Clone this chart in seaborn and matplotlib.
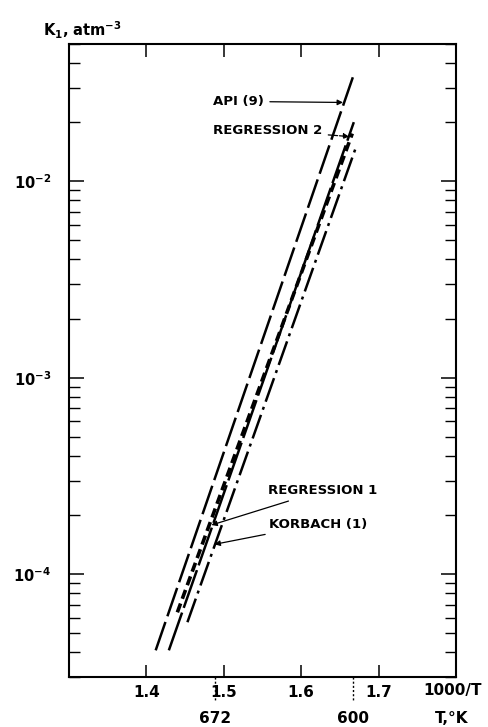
import numpy as np
import pandas as pd
import matplotlib
matplotlib.use('Agg')
import matplotlib.pyplot as plt
import matplotlib.transforms as mtransforms
import seaborn as sns

# Style
sns.set_style('ticks')
plt.rcParams['font.family'] = ['DejaVu Sans']
plt.rcParams['mathtext.fontset'] = 'dejavusans'
plt.rcParams['text.color'] = 'black'
plt.rcParams['xtick.color'] = 'black'
plt.rcParams['ytick.color'] = 'black'
plt.rcParams['axes.edgecolor'] = 'black'

# Data (each line is straight in log K vs 1000/T)
sources = ['API (9)', 'REGRESSION 1', 'REGRESSION 2', 'KORBACH (1)']
inv_t_start = [1.412, 1.429, 1.440, 1.453]
inv_t_end = [1.668, 1.668, 1.666, 1.671]
k1_start = [4.1e-5, 4.1e-5, 6.4e-5, 5.7e-5]
k1_end = [3.5e-2, 2.0e-2, 1.75e-2, 1.5e-2]

x_ticks = [1.4, 1.5, 1.6, 1.7]
y_major = [1e-4, 1e-3, 1e-2]
y_labels = ['10$^{\\mathbf{-4}}$', '10$^{\\mathbf{-3}}$', '10$^{\\mathbf{-2}}$']
temps_k = [672, 600]

df = pd.DataFrame({
    'inv_T': inv_t_start + inv_t_end,
    'K1': k1_start + k1_end,
    'source': sources + sources,
})

fig = plt.figure(figsize=(4.89, 7.27), dpi=100)
ax = fig.add_axes([0.1411, 0.0688, 0.7914, 0.8707])

dash_map = {
    'API (9)': (12, 2.4),
    'REGRESSION 1': (16, 2.0),
    'REGRESSION 2': (2.6, 1.4),
    'KORBACH (1)': (10, 2.2, 1.2, 2.2),
}
width_map = {'API (9)': 1.8, 'REGRESSION 1': 1.8, 'REGRESSION 2': 2.6, 'KORBACH (1)': 1.8}

sns.lineplot(data=df, x='inv_T', y='K1', style='source', size='source',
             dashes=dash_map, sizes=width_map, color='black', sort=False,
             legend=False, ax=ax)

ax.set_yscale('log')
ax.set_xlim(1.3, 1.8)
ax.set_ylim(3e-5, 5e-2)
ax.set_xlabel('')
ax.set_ylabel('')

ax.set_xticks(x_ticks)
ax.set_xticklabels([f'{v:.1f}' for v in x_ticks], fontsize=11, fontweight='bold')
ax.set_yticks(y_major)
ax.set_yticklabels(y_labels, fontsize=10.5, fontweight='bold')
ax.yaxis.set_minor_locator(matplotlib.ticker.LogLocator(base=10, subs=np.arange(2, 10)))
ax.yaxis.set_minor_formatter(matplotlib.ticker.NullFormatter())

ax.tick_params(axis='x', which='both', direction='in', top=True, bottom=True,
               length=9, width=1.1, pad=6, colors='black')
ax.tick_params(axis='y', which='major', direction='in', left=True, right=True,
               length=11, width=1.1, pad=13, colors='black')
ax.tick_params(axis='y', which='minor', direction='in', left=True, right=True,
               length=8, width=1.0, colors='black')
for sp in ax.spines.values():
    sp.set_linewidth(1.5)
    sp.set_color('black')

# Secondary temperature scale below the axis
trans = mtransforms.blended_transform_factory(ax.transData, ax.transAxes)
for t in temps_k:
    xv = 1000.0 / t
    ax.plot([xv, xv], [0.0, -0.037], transform=trans, color='black', lw=1.0,
            ls=(0, (1.5, 1.5)), clip_on=False)
    ax.text(xv, -0.065, f'{t}', transform=trans, ha='center', va='center',
            fontsize=11, fontweight='bold', color='black')

ax.text(0.99, -0.022, '1000/T', transform=ax.transAxes, ha='center', va='center',
        fontsize=11, fontweight='bold', color='black')
ax.text(0.99, -0.065, 'T,°K', transform=ax.transAxes, ha='center', va='center',
        fontsize=11, fontweight='bold', color='black')
ax.text(-0.067, 1.022, 'K$_\\mathbf{1}$, atm$^{\\mathbf{-3}}$', transform=ax.transAxes,
        ha='left', va='center', fontsize=10.5, fontweight='bold', color='black')

# Labels with arrows
arrow_kw = dict(arrowstyle='-|>', color='black', lw=0.9, mutation_scale=8,
                shrinkA=2, shrinkB=0)
ax.annotate('API (9)', xy=(1.654, 2.52e-2), xytext=(1.486, 2.55e-2),
            ha='left', va='center', fontsize=9.5, fontweight='bold', color='black',
            arrowprops=arrow_kw)
ax.annotate('REGRESSION 2', xy=(1.662, 1.69e-2), xytext=(1.486, 1.82e-2),
            ha='left', va='center', fontsize=9.5, fontweight='bold', color='black',
            arrowprops=dict(arrow_kw, ls=(0, (3, 1.5))))
ax.annotate('REGRESSION 1', xy=(1.484, 1.78e-4), xytext=(1.557, 2.67e-4),
            ha='left', va='center', fontsize=9.5, fontweight='bold', color='black',
            arrowprops=arrow_kw)
ax.annotate('KORBACH (1)', xy=(1.488, 1.42e-4), xytext=(1.558, 1.80e-4),
            ha='left', va='center', fontsize=9.5, fontweight='bold', color='black',
            arrowprops=arrow_kw)

fig.savefig('out.png', dpi=100)
